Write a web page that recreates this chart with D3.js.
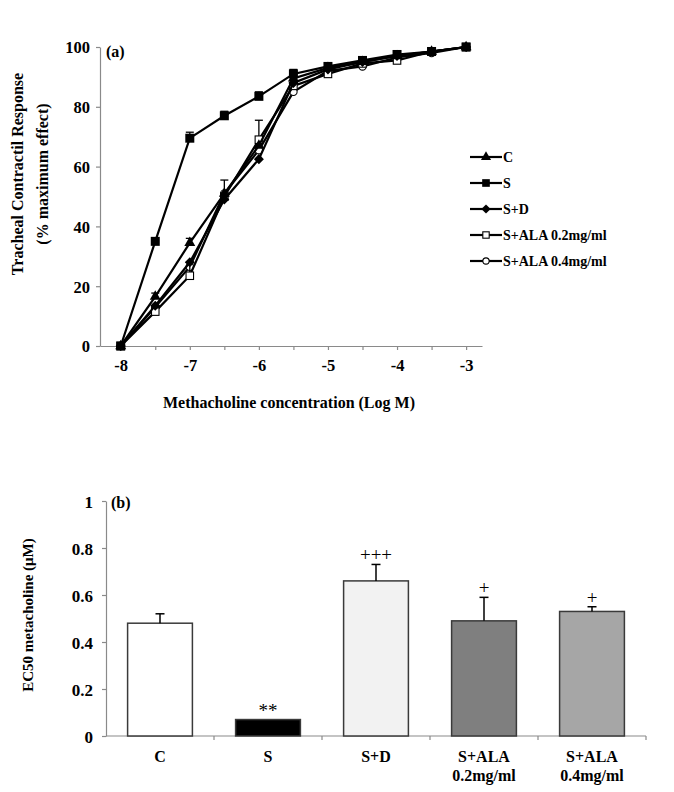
<!DOCTYPE html>
<html>
<head>
<meta charset="utf-8">
<script src="https://cdn.jsdelivr.net/npm/d3@7/dist/d3.min.js"></script>
<style>
  html, body { margin: 0; padding: 0; background: #fff; }
  svg { display: block; }
  text { font-family: "Liberation Serif", "Times New Roman", serif; }
</style>
</head>
<body>
<svg id="chart" width="674" height="792"></svg>
<script>
// ---------- Data: panel (a) ----------
const logConc = [-8, -7.5, -7, -6.5, -6, -5.5, -5, -4.5, -4, -3.5, -3];
const seriesNames = ["C", "S", "S+D", "S+ALA 0.2mg/ml", "S+ALA 0.4mg/ml"];
const respC     = [0, 16.5, 34.5, 51, 67, 89.5, 93, 95, 97, 98.5, 100];
const respS     = [0, 35, 69.5, 77, 83.5, 91, 93.5, 95.5, 97.5, 98.5, 100];
const respSD    = [0, 13.5, 28, 49, 62.5, 88, 92.5, 95, 97, 98.5, 100];
const respALA02 = [0, 11.5, 23.5, 50, 69, 87, 91, 94.5, 95.5, 98.5, 100];
const respALA04 = [0, 13, 26.5, 51, 65.5, 85, 92, 93.5, 96.5, 98, 100];
const errC      = [0, 1.2, 1.5, 4.5, 0, 0, 0, 0, 0, 0, 0];
const errS      = [0, 0, 2, 1.5, 1.5, 1.5, 1, 0, 0, 0, 0];
const errSD     = [0, 0, 0, 0, 0, 0, 0, 0, 0, 0, 0];
const errALA02  = [0, 0, 4.5, 0, 6.5, 0, 0, 0, 0, 0, 0];
const errALA04  = [0, 0, 0, 0, 0, 0, 0, 0, 0, 0, 0];
const yTicksA = [0, 20, 40, 60, 80, 100];
const xTicksMinorA = [-8, -7.5, -7, -6.5, -6, -5.5, -5, -4.5, -4, -3.5, -3];

// ---------- Data: panel (b) ----------
const groupLabels = [["C"], ["S"], ["S+D"], ["S+ALA", "0.2mg/ml"], ["S+ALA", "0.4mg/ml"]];
const ec50 = [0.48, 0.07, 0.66, 0.49, 0.53];
const ec50Err = [0.04, 0, 0.07, 0.10, 0.02];
const sigMarks = ["", "**", "+++", "+", "+"];
const yTicksB = [0, 0.2, 0.4, 0.6, 0.8, 1];

// ---------- Drawing ----------
const svg = d3.select("#chart");
const axisColor = "#8a8a8a";

// ===== Panel (a) =====
const xA = d3.scaleLinear().domain([-8.3, -2.77]).range([100, 482]);
const yA = d3.scaleLinear().domain([0, 100]).range([346, 47]);

const gA = svg.append("g");

const yAxisA = gA.append("g").attr("transform", `translate(${xA.range()[0]},0)`)
  .call(d3.axisLeft(yA).tickValues(yTicksA).tickSize(4).tickSizeOuter(0).tickPadding(6));
const xAxisA = gA.append("g").attr("transform", `translate(0,${yA(0)})`)
  .call(d3.axisBottom(xA).tickValues(xTicksMinorA).tickSize(4).tickSizeOuter(0).tickPadding(9)
    .tickFormat(d => Number.isInteger(d) ? String(d) : ""));
[yAxisA, xAxisA].forEach(ax => {
  ax.selectAll("path.domain").attr("stroke", axisColor).attr("stroke-width", 1.2);
  ax.selectAll(".tick line").attr("stroke", axisColor).attr("stroke-width", 1.2);
  ax.selectAll(".tick text").attr("font-size", 16.5).attr("font-weight", "bold")
    .attr("fill", "#000").style("font-family", '"Liberation Serif", serif');
});
yAxisA.selectAll(".tick text").attr("dy", "0.36em");

gA.append("text").attr("x", 106).attr("y", 57).text("(a)")
  .attr("font-size", 16).attr("font-weight", "bold");

gA.append("text")
  .attr("transform", `translate(23,174) rotate(-90)`)
  .attr("text-anchor", "middle").attr("font-size", 16).attr("font-weight", "bold")
  .text("Tracheal Contractil Response");
gA.append("text")
  .attr("transform", `translate(48,174) rotate(-90)`)
  .attr("text-anchor", "middle").attr("font-size", 16).attr("font-weight", "bold")
  .text("(% maximum effect)");
gA.append("text")
  .attr("x", 289).attr("y", 408)
  .attr("text-anchor", "middle").attr("font-size", 16).attr("font-weight", "bold")
  .text("Methacholine concentration (Log M)");

const seriesData = [
  { name: seriesNames[0], vals: respC, err: errC, marker: "triangle" },
  { name: seriesNames[1], vals: respS, err: errS, marker: "square" },
  { name: seriesNames[2], vals: respSD, err: errSD, marker: "diamond" },
  { name: seriesNames[3], vals: respALA02, err: errALA02, marker: "opensquare" },
  { name: seriesNames[4], vals: respALA04, err: errALA04, marker: "opencircle" }
];

function drawMarker(g, type, x, y, small) {
  const s = small ? 0.85 : 1;
  if (type === "triangle") {
    g.append("path").attr("d", d3.symbol(d3.symbolTriangle, 52 * s)())
      .attr("transform", `translate(${x},${y})`).attr("fill", "#000");
  } else if (type === "square") {
    const w = 9 * s;
    g.append("rect").attr("x", x - w / 2).attr("y", y - w / 2).attr("width", w).attr("height", w).attr("fill", "#000");
  } else if (type === "diamond") {
    g.append("path").attr("d", d3.symbol(d3.symbolDiamond2, 64 * s)())
      .attr("transform", `translate(${x},${y})`).attr("fill", "#000");
  } else if (type === "opensquare") {
    const w = 7.5 * s;
    g.append("rect").attr("x", x - w / 2).attr("y", y - w / 2).attr("width", w).attr("height", w)
      .attr("fill", "#fff").attr("stroke", "#000").attr("stroke-width", 1.1);
  } else if (type === "opencircle") {
    g.append("circle").attr("cx", x).attr("cy", y).attr("r", 3.7 * s)
      .attr("fill", "#fff").attr("stroke", "#000").attr("stroke-width", 1.1);
  }
}

const line = d3.line().x(d => xA(d[0])).y(d => yA(d[1]));
seriesData.slice().reverse().forEach(sd => {
  const pts = logConc.map((x, i) => [x, sd.vals[i]]);
  const g = gA.append("g");
  logConc.forEach((x, i) => {
    if (sd.err[i] > 0) {
      const px = xA(x), y0 = yA(sd.vals[i]), y1 = yA(sd.vals[i] + sd.err[i]);
      g.append("line").attr("x1", px).attr("x2", px).attr("y1", y0).attr("y2", y1)
        .attr("stroke", "#000").attr("stroke-width", 1.3);
      g.append("line").attr("x1", px - 4).attr("x2", px + 4).attr("y1", y1).attr("y2", y1)
        .attr("stroke", "#000").attr("stroke-width", 1.3);
    }
  });
  g.append("path").datum(pts).attr("d", line).attr("fill", "none")
    .attr("stroke", "#000").attr("stroke-width", 2.2);
  pts.forEach(p => drawMarker(g, sd.marker, xA(p[0]), yA(p[1])));
});

const legend = gA.append("g");
seriesData.forEach((sd, i) => {
  const y = 157 + i * 26;
  legend.append("line").attr("x1", 470).attr("x2", 502).attr("y1", y).attr("y2", y)
    .attr("stroke", "#000").attr("stroke-width", 2.2);
  drawMarker(legend, sd.marker, 486, y, true);
  legend.append("text").attr("x", 503).attr("y", y + 5).attr("font-size", 14)
    .attr("font-weight", "bold").text(sd.name);
});

// ===== Panel (b) =====
const xB = d3.scaleBand().domain(d3.range(ec50.length)).range([106, 646])
  .paddingInner(0.4).paddingOuter(0.2);
const yB = d3.scaleLinear().domain([0, 1]).range([736, 501]);
const barColors = ["#ffffff", "#000000", "#f2f2f2", "#7f7f7f", "#a6a6a6"];

const gB = svg.append("g");
const yAxisB = gB.append("g").attr("transform", `translate(${xB.range()[0]},0)`)
  .call(d3.axisLeft(yB).tickValues(yTicksB).tickSize(4).tickSizeOuter(0).tickPadding(9)
    .tickFormat(d => d === 0 ? "0" : d === 1 ? "1" : d3.format(".1f")(d)));
yAxisB.selectAll("path.domain").attr("stroke", axisColor).attr("stroke-width", 1.2);
yAxisB.selectAll(".tick line").attr("stroke", axisColor).attr("stroke-width", 1.2);
yAxisB.selectAll(".tick text").attr("font-size", 17).attr("font-weight", "bold")
  .attr("fill", "#000").attr("dy", "0.36em").style("font-family", '"Liberation Serif", serif');

gB.append("line").attr("x1", xB.range()[0]).attr("x2", xB.range()[1])
  .attr("y1", yB(0)).attr("y2", yB(0)).attr("stroke", axisColor).attr("stroke-width", 1.2);
const step = xB.step();
d3.range(1, ec50.length + 1).forEach(k => {
  const bx = xB.range()[0] + k * step;
  gB.append("line").attr("x1", bx).attr("x2", bx).attr("y1", yB(0)).attr("y2", yB(0) + 4)
    .attr("stroke", axisColor).attr("stroke-width", 1.2);
});

ec50.forEach((v, i) => {
  gB.append("rect").attr("x", xB(i)).attr("y", yB(v)).attr("width", xB.bandwidth())
    .attr("height", yB(0) - yB(v)).attr("fill", barColors[i])
    .attr("stroke", "#3a3a3a").attr("stroke-width", 1.5);
  const cx = xB(i) + xB.bandwidth() / 2;
  if (ec50Err[i] > 0) {
    const y1 = yB(v + ec50Err[i]);
    gB.append("line").attr("x1", cx).attr("x2", cx).attr("y1", yB(v)).attr("y2", y1)
      .attr("stroke", "#000").attr("stroke-width", 1.5);
    gB.append("line").attr("x1", cx - 4.5).attr("x2", cx + 4.5).attr("y1", y1).attr("y2", y1)
      .attr("stroke", "#000").attr("stroke-width", 1.5);
  }
  if (sigMarks[i]) {
    const top = yB(v + ec50Err[i]);
    gB.append("text").attr("x", cx).attr("y", top - 3).attr("text-anchor", "middle")
      .attr("font-size", 19).text(sigMarks[i]);
  }
  groupLabels[i].forEach((t, j) => {
    gB.append("text").attr("x", cx).attr("y", 762 + j * 19).attr("text-anchor", "middle")
      .attr("font-size", 16).attr("font-weight", "bold").text(t);
  });
});

gB.append("text").attr("x", 111).attr("y", 508).text("(b)")
  .attr("font-size", 16).attr("font-weight", "bold");

gB.append("text")
  .attr("transform", `translate(33,615) rotate(-90)`)
  .attr("text-anchor", "middle").attr("font-size", 15).attr("font-weight", "bold")
  .text("EC50 metacholine (μM)");
</script>
</body>
</html>
